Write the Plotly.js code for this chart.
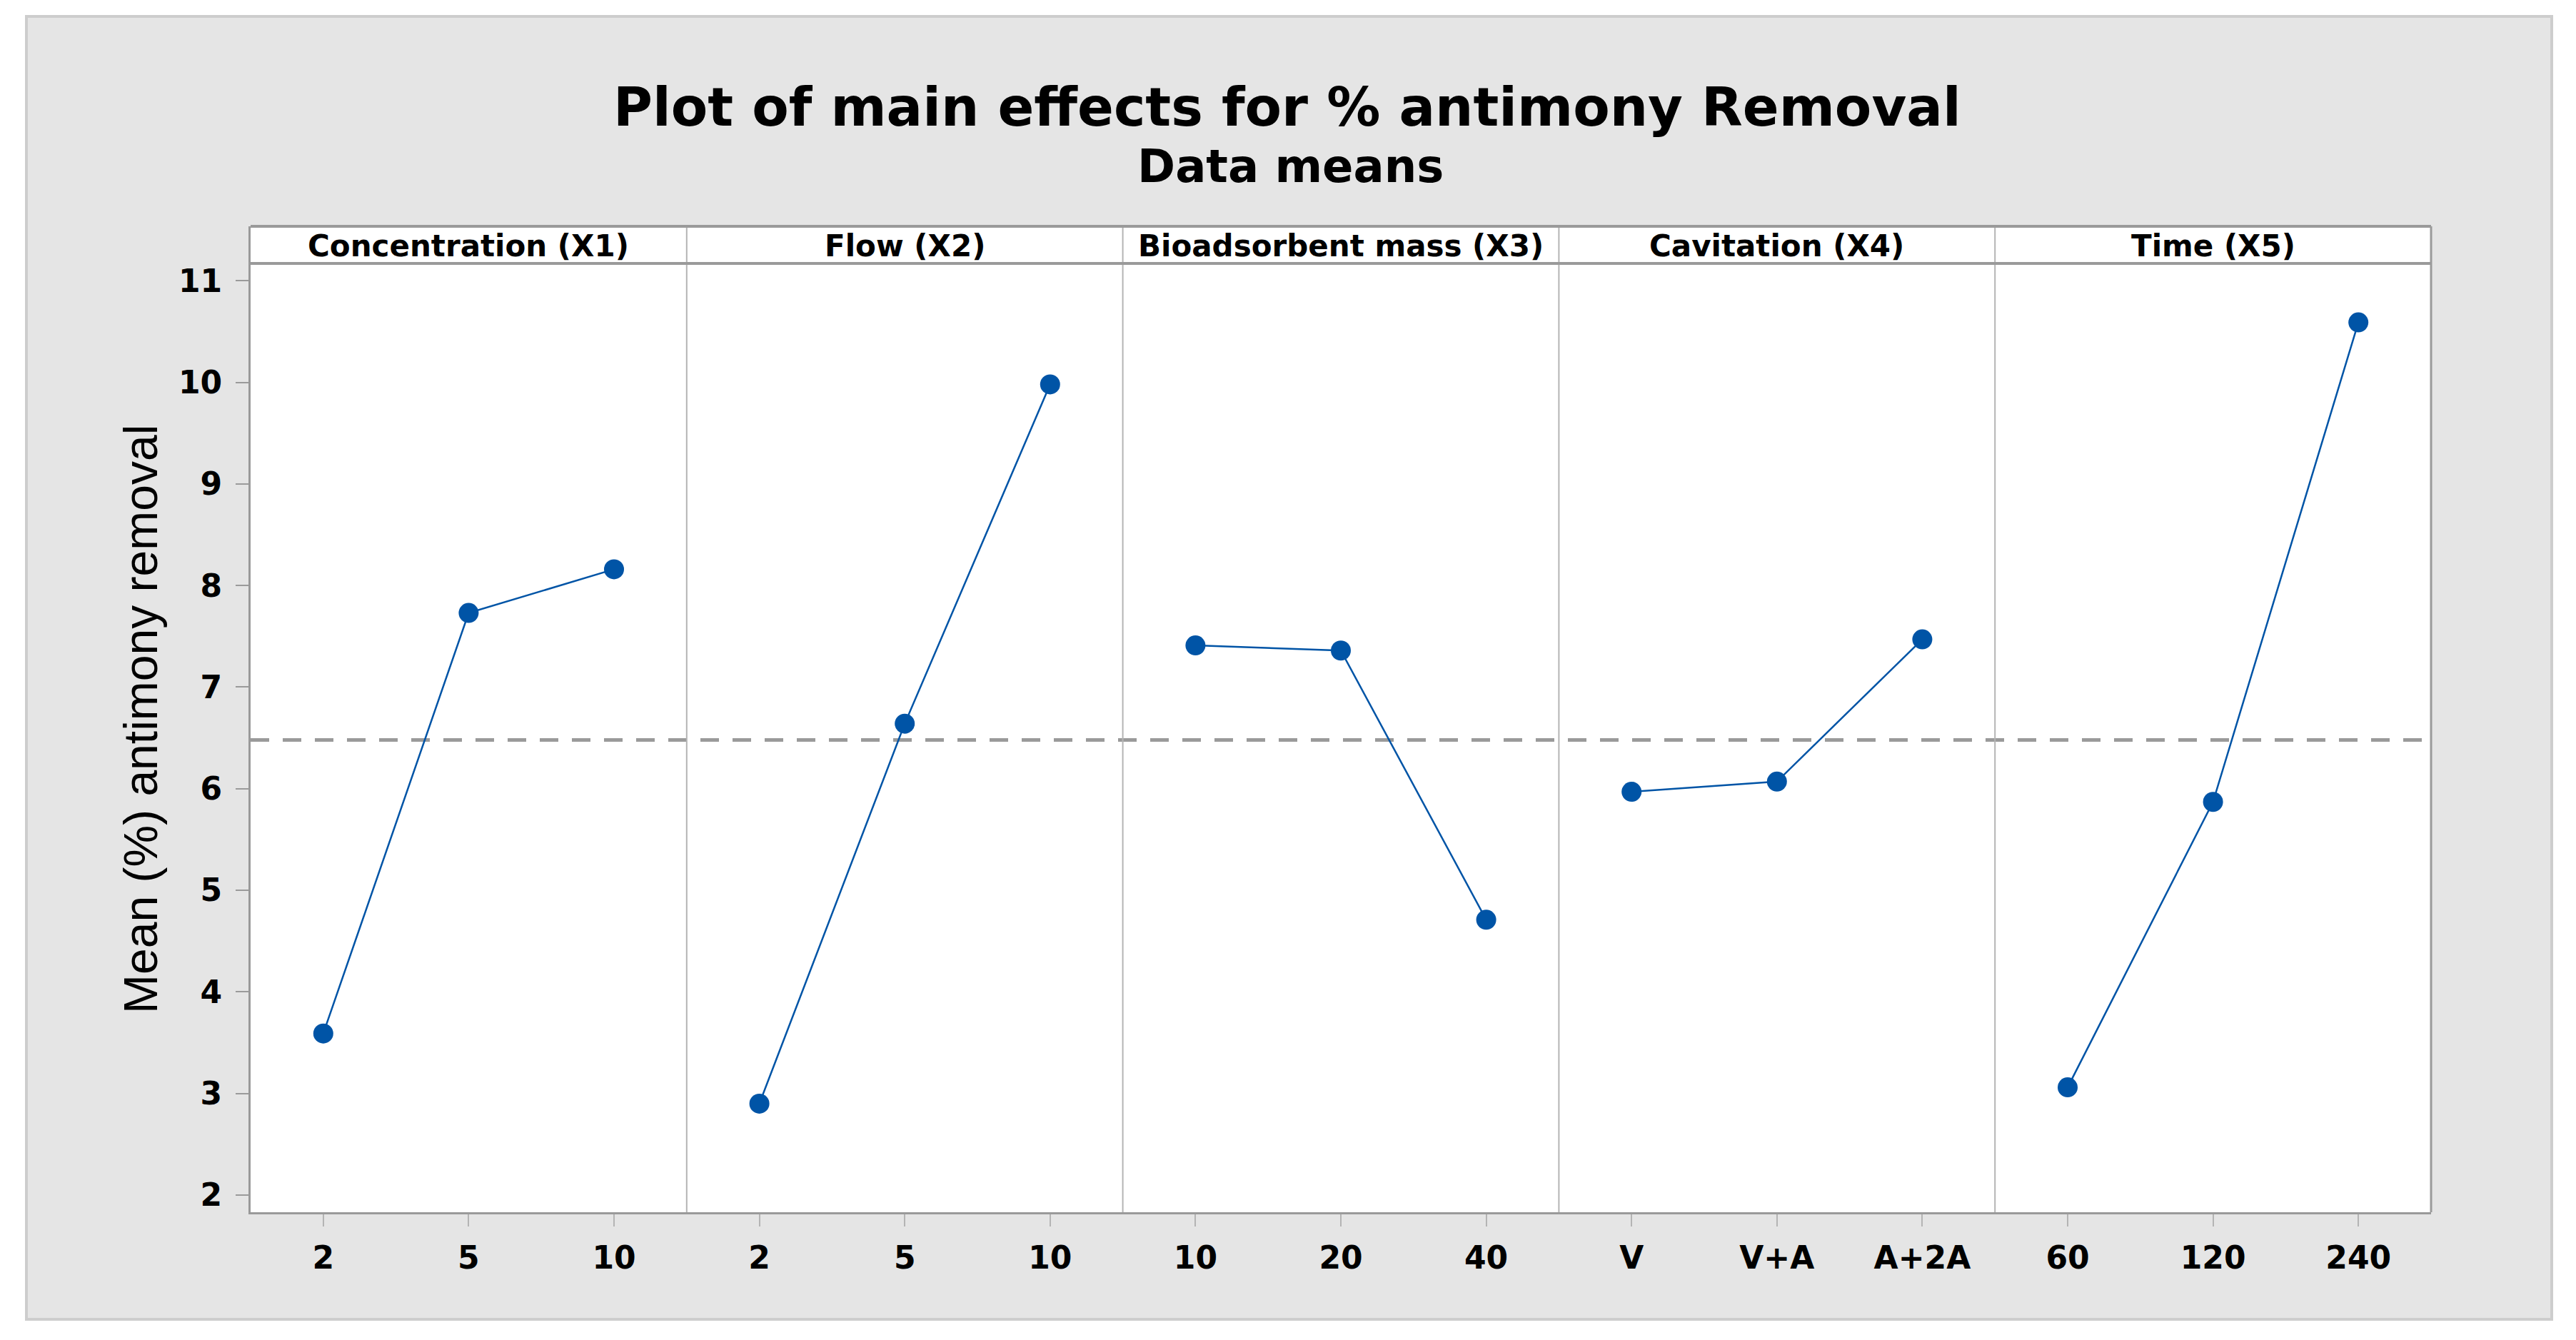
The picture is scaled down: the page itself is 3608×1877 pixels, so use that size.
<!DOCTYPE html>
<html>
<head>
<meta charset="utf-8">
<script src="https://cdn.plot.ly/plotly-3.0.1.min.js"></script>
<style>
  html, body { margin: 0; padding: 0; background: #ffffff; }
  #chart { width: 3608px; height: 1877px; }
</style>
</head>
<body>
<div id="chart"></div>
<script>
// ---- data ----
const factorNames = ["Concentration (X1)", "Flow (X2)", "Bioadsorbent mass (X3)", "Cavitation (X4)", "Time (X5)"];
const levelsX1 = ["2", "5", "10"];
const levelsX2 = ["2", "5", "10"];
const levelsX3 = ["10", "20", "40"];
const levelsX4 = ["V", "V+A", "A+2A"];
const levelsX5 = ["60", "120", "240"];
const meansX1 = [3.59, 7.73, 8.16];
const meansX2 = [2.90, 6.64, 9.98];
const meansX3 = [7.41, 7.36, 4.71];
const meansX4 = [5.97, 6.07, 7.47];
const meansX5 = [3.06, 5.87, 10.59];
const grandMean = 6.48;
const yTicks = [2, 3, 4, 5, 6, 7, 8, 9, 10, 11];

const titleText = "Plot of main effects for % antimony Removal";
const subtitleText = "Data means";
const yTitleText = "Mean (%) antimony removal";

// ---- layout geometry ----
const W = 3608, H = 1877;
const mL = 351, mR = W - 3405, mT = 317, mB = H - 1698;
const plotW = W - mL - mR, plotH = H - mT - mB;
const px2paperX = x => (x - mL) / plotW;
const px2paperY = y => (H - mB - y) / plotH;

const levels = [levelsX1, levelsX2, levelsX3, levelsX4, levelsX5];
const means = [meansX1, meansX2, meansX3, meansX4, meansX5];
const nP = levels.length;

const blue = "#0054a6";
const axisGray = "#9a9a9a";
const divGray = "#b4b4b4";
const tickFont = { family: "DejaVu Sans", size: 44, color: "#000", weight: "bold" };

const traces = levels.map((lv, i) => ({
  type: "scatter",
  mode: "lines+markers",
  x: lv,
  y: means[i],
  xaxis: i === 0 ? "x" : "x" + (i + 1),
  yaxis: "y",
  line: { color: blue, width: 2.5 },
  marker: { color: blue, size: 28, line: { width: 0 } },
  hoverinfo: "x+y",
  showlegend: false,
  cliponaxis: false
}));

const layout = {
  width: W, height: H,
  margin: { l: mL, r: mR, t: mT, b: mB, pad: 0 },
  paper_bgcolor: "#ffffff",
  plot_bgcolor: "rgba(0,0,0,0)",
  showlegend: false,
  yaxis: {
    range: [1.831, 11.536],
    tickvals: yTicks,
    ticks: "outside", ticklen: 18, tickwidth: 2, tickcolor: axisGray,
    showline: true, linecolor: axisGray, linewidth: 3,
    showgrid: false, zeroline: false,
    tickfont: tickFont,
    ticklabelstandoff: 10,
    anchor: "x"
  },
  shapes: [],
  annotations: []
};

for (let i = 0; i < nP; i++) {
  const key = i === 0 ? "xaxis" : "xaxis" + (i + 1);
  layout[key] = {
    domain: [i / nP, (i + 1) / nP],
    type: "category",
    categoryorder: "array",
    categoryarray: levels[i],
    range: [-0.5, levels[i].length - 0.5],
    ticks: "outside", ticklen: 17, tickwidth: 2, tickcolor: divGray,
    showline: true, linecolor: axisGray, linewidth: 3,
    showgrid: false, zeroline: false,
    tickfont: tickFont,
    ticklabelstandoff: 6,
    anchor: "y"
  };
}

// gray frame background and white plot area
layout.shapes.push({
  type: "rect", xref: "paper", yref: "paper", layer: "below",
  x0: px2paperX(37), x1: px2paperX(3574), y0: px2paperY(1848), y1: px2paperY(23),
  fillcolor: "#e5e5e5", line: { color: "#cdcdcd", width: 4 }
});
layout.shapes.push({
  type: "rect", xref: "paper", yref: "paper", layer: "below",
  x0: 0, x1: 1, y0: 0, y1: 1,
  fillcolor: "#ffffff", line: { width: 0 }
});
// reference (grand mean) line
layout.shapes.push({
  type: "line", xref: "paper", yref: "y", layer: "below",
  x0: 0, x1: 1, y0: grandMean, y1: grandMean,
  line: { color: "#9a9a9a", width: 5, dash: "26px,19px" }
});
// panel dividers and right border
for (let i = 1; i <= nP; i++) {
  layout.shapes.push({
    type: "line", xref: "paper", yref: "paper", layer: "above",
    x0: i / nP, x1: i / nP, y0: 0, y1: 1,
    line: { color: i === nP ? axisGray : divGray, width: i === nP ? 3 : 2 }
  });
}
// strip top and bottom lines
[317, 369].forEach(yy => {
  layout.shapes.push({
    type: "line", xref: "paper", yref: "paper", layer: "above",
    x0: 0, x1: 1, y0: px2paperY(yy), y1: px2paperY(yy),
    line: { color: axisGray, width: 4 }
  });
});

// strip labels
factorNames.forEach((name, i) => {
  layout.annotations.push({
    text: name, xref: "paper", yref: "paper",
    x: (i + 0.5) / nP, y: px2paperY(345),
    xanchor: "center", yanchor: "middle", showarrow: false,
    font: { family: "DejaVu Sans", size: 42, color: "#000", weight: "bold" }
  });
});

// titles
layout.annotations.push({
  text: titleText, xref: "paper", yref: "paper",
  x: px2paperX(1803), y: px2paperY(150),
  xanchor: "center", yanchor: "middle", showarrow: false,
  font: { family: "DejaVu Sans", size: 75, color: "#000", weight: "bold" }
});
layout.annotations.push({
  text: subtitleText, xref: "paper", yref: "paper",
  x: px2paperX(1807), y: px2paperY(233),
  xanchor: "center", yanchor: "middle", showarrow: false,
  font: { family: "DejaVu Sans", size: 64, color: "#000", weight: "bold" }
});
layout.annotations.push({
  text: yTitleText, xref: "paper", yref: "paper",
  x: px2paperX(197), y: px2paperY(1008),
  xanchor: "center", yanchor: "middle", showarrow: false, textangle: -90,
  font: { family: "Liberation Sans", size: 66, color: "#000" }
});

Plotly.newPlot("chart", traces, layout, { staticPlot: true, displayModeBar: false });
</script>
</body>
</html>
